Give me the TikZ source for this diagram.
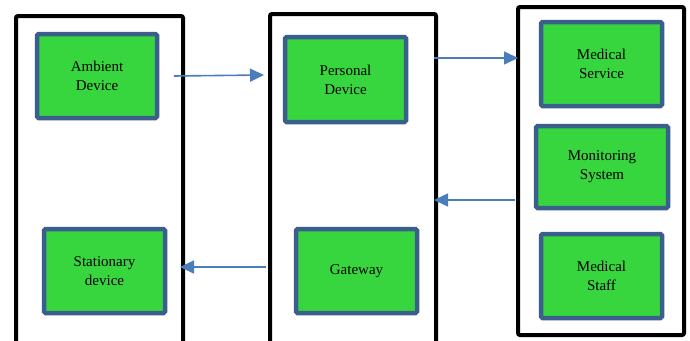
\documentclass[tikz,border=0pt]{standalone}
\usepackage{fontspec}
\setmainfont{Liberation Serif}
\usetikzlibrary{arrows.meta}
\definecolor{boxgreen}{HTML}{38D63E}
\definecolor{boxblue}{HTML}{3B5F8C}
\definecolor{arrblue}{HTML}{4A7EBB}
\tikzset{
  container/.style={draw=black, line width=4pt, rounded corners=2pt, fill=white, inner sep=0pt},
  gbox/.style={draw=boxblue, fill=boxgreen, line width=4.5pt, rounded corners=1.5pt, inner sep=0pt,
    align=center, font=\fontsize{15pt}{19pt}\selectfont},
  arr/.style={draw=arrblue, line width=1.6pt, -{Triangle[length=14pt,width=13pt]}},
}
\begin{document}
\begin{tikzpicture}[x=1pt,y=-1pt]
\useasboundingbox (0,0) rectangle (690,340);
\clip (0,0) rectangle (690,340);
% containers
\node[container, minimum width=167pt, minimum height=340pt, anchor=north west] (left) at (14,14) {};
\node[container, minimum width=166pt, minimum height=340pt, anchor=north west] (mid) at (268,12) {};
\node[container, minimum width=166pt, minimum height=328pt, anchor=north west] (right) at (516,5) {};
% inner boxes
\node[gbox, minimum width=120pt, minimum height=84pt] (amb) at (97,76) {Ambient\\Device};
\node[gbox, minimum width=121pt, minimum height=84pt] (stat) at (104.5,271) {Stationary\\device};
\node[gbox, minimum width=121pt, minimum height=85pt] (pers) at (345.5,79.5) {Personal\\Device};
\node[gbox, minimum width=121pt, minimum height=84pt] (gate) at (356.5,271) {Gateway};
\node[gbox, minimum width=121pt, minimum height=84pt] (msrv) at (601.5,64) {Medical\\Service};
\node[gbox, minimum width=132pt, minimum height=82pt] (mon) at (602,167) {Monitoring\\System};
\node[gbox, minimum width=121pt, minimum height=84pt] (mstf) at (601.5,276) {Medical\\Staff};
% arrow end points
\coordinate (a1s) at (174,76);
\coordinate (a1e) at (264,75);
\coordinate (a2s) at (434,58);
\coordinate (a2e) at (518,58);
\coordinate (a3s) at (515,200);
\coordinate (a3e) at (434,200);
\coordinate (a4s) at (266,267);
\coordinate (a4e) at (180,267);
\draw[arr] (a1s) -- (a1e);
\draw[arr] (a2s) -- (a2e);
\draw[arr] (a3s) -- (a3e);
\draw[arr] (a4s) -- (a4e);
\end{tikzpicture}
\end{document}
